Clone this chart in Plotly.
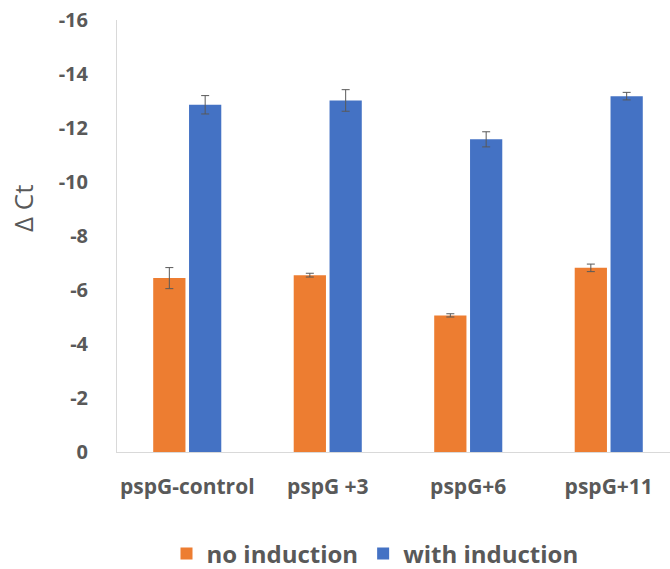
import plotly.graph_objects as go

# qPCR delta-Ct per construct, with and without induction
categories = ["pspG-control", "pspG +3", "pspG+6", "pspG+11"]
no_induction = [-6.44, -6.55, -5.06, -6.82]
no_induction_err = [0.39, 0.07, 0.06, 0.14]
with_induction = [-12.86, -13.02, -11.58, -13.18]
with_induction_err = [0.34, 0.40, 0.28, 0.14]
y_ticks = [0, -2, -4, -6, -8, -10, -12, -14, -16]

GRAY = "#595959"
FONT = "Open Sans"
W, H = 670, 569

fig = go.Figure()
fig.add_trace(go.Bar(
    x=categories, y=no_induction, name="no induction",
    marker=dict(color="#ED7D31", line=dict(width=0)),
    error_y=dict(type="data", array=no_induction_err, color=GRAY,
                 thickness=1, width=4),
))
fig.add_trace(go.Bar(
    x=categories, y=with_induction, name="with induction",
    marker=dict(color="#4472C4", line=dict(width=0)),
    error_y=dict(type="data", array=with_induction_err, color=GRAY,
                 thickness=1, width=4),
))

fig.update_layout(
    width=W, height=H,
    margin=dict(l=117, r=0, t=20, b=117, autoexpand=False),
    paper_bgcolor="white", plot_bgcolor="white",
    barmode="group", bargap=0.49, bargroupgap=0.1,
    font=dict(family=FONT, color=GRAY),
    showlegend=True,
    legend=dict(
        orientation="h",
        xref="container", x=375 / W, xanchor="center",
        yref="container", y=(H - 554) / H, yanchor="middle",
        font=dict(size=24, color=GRAY, family=FONT, weight="bold"),
        itemwidth=30, tracegroupgap=0,
    ),
)
fig.update_xaxes(
    range=[-0.5, 3.436], showgrid=False, zeroline=False,
    showline=True, linecolor="#D9D9D9", linewidth=1,
    ticks="", ticklabelstandoff=16,
    tickfont=dict(size=21, color=GRAY, family=FONT, weight="bold"),
)
fig.update_yaxes(
    range=[0, -16], tickvals=y_ticks, ticktext=[str(v) for v in y_ticks],
    showgrid=False, zeroline=False,
    showline=True, linecolor="#D9D9D9", linewidth=1,
    ticks="", ticklabelstandoff=24,
    tickfont=dict(size=20, color=GRAY, family=FONT, weight="bold"),
)
fig.add_annotation(
    text="Δ Ct", textangle=-90, showarrow=False,
    xref="paper", yref="paper", x=(23 - 117) / 553, y=(452 - 209) / 432,
    xanchor="center", yanchor="middle",
    font=dict(size=26, color=GRAY, family=FONT),
)

fig.write_html("out.html")
